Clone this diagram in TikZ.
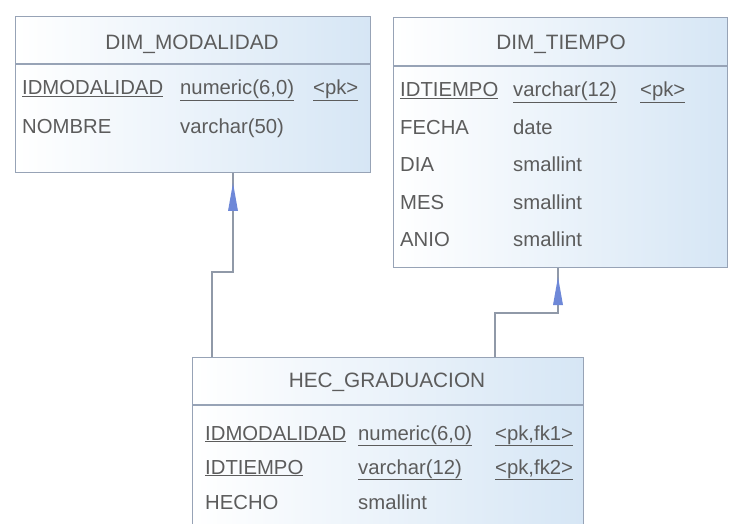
\documentclass[tikz,border=0pt]{standalone}
\usepackage{fontspec}
\setmainfont{Liberation Sans}
\definecolor{bordc}{HTML}{97A3B6}
\definecolor{fillc}{HTML}{D6E6F5}
\definecolor{txtc}{HTML}{5C5C5C}
\definecolor{linec}{HTML}{9099A8}
\definecolor{arrc}{HTML}{6E88D8}
\begin{document}
\begin{tikzpicture}[x=1pt,y=-1pt,
  tbl/.style={draw=bordc, line width=1.3pt, left color=white, right color=fillc, inner sep=0, anchor=north west},
  sepline/.style={draw=bordc, line width=1.3pt},
  hd/.style={text=txtc, font=\fontsize{20.8}{21}\selectfont, anchor=base, inner sep=0},
  cell/.style={text=txtc, font=\fontsize{20.3}{21}\selectfont, anchor=base west, inner sep=0},
  conn/.style={draw=linec, line width=1.2pt},
  arrhead/.style={fill=arrc, draw=none}
]
\clip (0,0) rectangle (729,524);
\fill[white] (0,0) rectangle (729,524);

% DIM_MODALIDAD
\node[tbl, minimum width=355pt, minimum height=156pt] (mod) at (15,16) {};
\draw[sepline] (15,64) -- (370,64);
\node[hd] (modh) at (192,50) {DIM\_MODALIDAD};
\node[cell] (m1a) at (22,95) {\underline{IDMODALIDAD}};
\node[cell] (m1b) at (180,95) {\underline{numeric(6,0)}};
\node[cell] (m1c) at (313,95) {\underline{<pk>}};
\node[cell] (m2a) at (22,134) {NOMBRE};
\node[cell] (m2b) at (180,134) {varchar(50)};

% DIM_TIEMPO
\node[tbl, minimum width=334pt, minimum height=250pt] (tie) at (393,17) {};
\draw[sepline] (393,66) -- (727,66);
\node[hd] (tieh) at (561,50) {DIM\_TIEMPO};
\node[cell] (t1a) at (400,97) {\underline{IDTIEMPO}};
\node[cell] (t1b) at (513,97) {\underline{varchar(12)}};
\node[cell] (t1c) at (640,97) {\underline{<pk>}};
\node[cell] (t2a) at (400,135) {FECHA};
\node[cell] (t2b) at (513,135) {date};
\node[cell] (t3a) at (400,172) {DIA};
\node[cell] (t3b) at (513,172) {smallint};
\node[cell] (t4a) at (400,210) {MES};
\node[cell] (t4b) at (513,210) {smallint};
\node[cell] (t5a) at (400,247) {ANIO};
\node[cell] (t5b) at (513,247) {smallint};

% HEC_GRADUACION
\node[tbl, minimum width=391pt, minimum height=200pt] (hec) at (192,357) {};
\draw[sepline] (192,405) -- (583,405);
\node[hd] (hech) at (387,387) {HEC\_GRADUACION};
\node[cell] (h1a) at (205,440) {\underline{IDMODALIDAD}};
\node[cell] (h1b) at (358,440) {\underline{numeric(6,0)}};
\node[cell] (h1c) at (495,440) {\underline{<pk,fk1>}};
\node[cell] (h2a) at (205,474) {\underline{IDTIEMPO}};
\node[cell] (h2b) at (358,474) {\underline{varchar(12)}};
\node[cell] (h2c) at (495,474) {\underline{<pk,fk2>}};
\node[cell] (h3a) at (205,509) {HECHO};
\node[cell] (h3b) at (358,509) {smallint};

% connectors
\coordinate (lfoot) at (212,357);
\coordinate (lbend) at (233,272);
\draw[conn] (lfoot) |- (lbend) -- (lbend |- mod.south);
\coordinate (ltip) at (233,183);
\fill[arrhead] (ltip) -- ++(5,28) -- ++(-10,0) -- cycle;

\coordinate (rfoot) at (495,357);
\coordinate (rbend) at (558,313);
\draw[conn] (rfoot) |- (rbend) -- (rbend |- tie.south);
\coordinate (rtip) at (558,277);
\fill[arrhead] (rtip) -- ++(5,28) -- ++(-10,0) -- cycle;
\end{tikzpicture}
\end{document}
